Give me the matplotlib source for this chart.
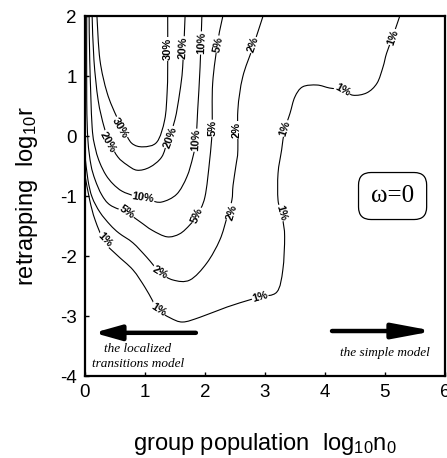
import numpy as np
import matplotlib
matplotlib.use('Agg')
import matplotlib.pyplot as plt
from matplotlib.path import Path
from matplotlib.patches import PathPatch

plt.rcParams['font.family'] = ['Liberation Sans', 'DejaVu Sans']
plt.rcParams['mathtext.fontset'] = 'custom'
plt.rcParams['mathtext.rm'] = 'Liberation Sans'
plt.rcParams['mathtext.it'] = 'Liberation Sans:italic'
plt.rcParams['axes.unicode_minus'] = False

# contour lines: (log10 n0, log10 r)
c30 = [(0.20, 2.0), (0.25, 1.27), (0.37, 0.72), (0.53, 0.32), (0.65, 0.10), (0.78, -0.12),
       (0.97, -0.18), (1.20, -0.10), (1.33, 0.27), (1.37, 0.72), (1.38, 1.15), (1.38, 2.0)]
c20 = [(0.12, 2.0), (0.15, 1.27), (0.22, 0.6), (0.32, 0.15), (0.42, -0.12), (0.55, -0.35),
       (0.70, -0.48), (0.87, -0.57), (1.08, -0.52), (1.28, -0.35), (1.38, -0.07), (1.50, 0.27),
       (1.58, 0.72), (1.63, 1.15), (1.67, 2.0)]
c10 = [(0.07, 2.0), (0.08, 1.27), (0.12, 0.15), (0.18, -0.23), (0.25, -0.45), (0.35, -0.65),
       (0.47, -0.8), (0.62, -0.92), (0.83, -1.0), (1.08, -1.07), (1.28, -1.1), (1.53, -0.97),
       (1.70, -0.68), (1.80, -0.35), (1.85, -0.07), (1.88, 0.43), (1.92, 1.15), (1.95, 2.0)]
c5 = [(0.03, 2.0), (0.03, 0.6), (0.05, -0.07), (0.10, -0.48), (0.17, -0.73), (0.28, -0.98),
      (0.42, -1.15), (0.70, -1.28), (0.92, -1.43), (1.12, -1.57), (1.37, -1.68), (1.58, -1.63),
      (1.75, -1.48), (1.87, -1.32), (2.0, -1.02), (2.08, -0.4), (2.12, 0.1), (2.13, 0.88),
      (2.22, 1.6), (2.3, 2.0)]
c2 = [(0.0, -0.32), (0.05, -0.73), (0.12, -1.02), (0.25, -1.27), (0.42, -1.48), (0.57, -1.62),
      (0.8, -1.78), (1.03, -2.02), (1.25, -2.27), (1.47, -2.4), (1.75, -2.4), (2.03, -2.12),
      (2.25, -1.73), (2.37, -1.35), (2.45, -1.07), (2.47, -0.82), (2.52, -0.48), (2.55, -0.23),
      (2.55, 0.43), (2.63, 0.98), (2.8, 1.48), (2.97, 2.0)]
c1 = [(0.0, -0.65), (0.08, -1.07), (0.17, -1.4), (0.33, -1.77), (0.53, -1.98), (0.8, -2.23),
      (1.0, -2.52), (1.12, -2.73), (1.22, -2.9), (1.42, -3.03), (1.63, -3.1), (1.92, -3.02),
      (2.37, -2.85), (2.75, -2.73), (2.92, -2.68), (3.2, -2.6), (3.3, -2.23), (3.33, -1.68),
      (3.3, -1.4), (3.28, -1.28), (3.22, -1.07), (3.22, -0.62), (3.28, -0.23), (3.33, 0.1),
      (3.42, 0.38), (3.5, 0.65), (3.63, 0.82), (3.87, 0.85), (4.08, 0.8), (4.3, 0.77),
      (4.47, 0.68), (4.7, 0.72), (4.87, 0.88), (4.97, 1.15), (5.03, 1.38), (5.13, 1.65), (5.25, 2.0)]

contours = {'30%': c30, '20%': c20, '10%': c10, '5%': c5, '2%': c2, '1%': c1}

# where the inline labels sit
label_pos = {
    '30%': [(0.58, 0.13), (1.38, 1.45)],
    '20%': [(0.38, -0.10), (1.42, -0.02), (1.63, 1.47)],
    '10%': [(0.97, -1.03), (1.85, -0.07), (1.95, 1.55)],
    '5%': [(0.70, -1.27), (1.87, -1.32), (2.13, 0.13), (2.23, 1.53)],
    '2%': [(1.25, -2.27), (2.45, -1.27), (2.53, 0.1), (2.8, 1.52)],
    '1%': [(0.33, -1.73), (1.22, -2.9), (2.92, -2.68), (3.28, -1.28), (3.33, 0.13),
           (4.3, 0.77), (5.13, 1.65)],
}

xticks = [0, 1, 2, 3, 4, 5, 6]
yticks = [-4, -3, -2, -1, 0, 1, 2]


def smooth_path(pts):
    # Catmull-Rom through the read points, drawn as cubic bezier pieces
    p = np.vstack([pts[0], pts, pts[-1]])
    verts = [p[1]]
    codes = [Path.MOVETO]
    for k in range(1, len(p) - 2):
        p0, p1, p2, p3 = p[k - 1], p[k], p[k + 1], p[k + 2]
        verts += [p1 + (p2 - p0) / 6, p2 - (p3 - p1) / 6, p2]
        codes += [Path.CURVE4] * 3
    return Path(verts, codes)


fig = plt.figure(figsize=(4.47, 4.58), dpi=100)
ax = fig.add_axes([0.190, 0.179, 0.805, 0.786])
ax.set_xlim(0, 6)
ax.set_ylim(-4, 2)

for name, pts in contours.items():
    pts = np.array(pts)
    ax.add_patch(PathPatch(smooth_path(pts), facecolor='none', edgecolor='black', lw=0.8))

# labels rotated along the local direction of the line
for name, spots in label_pos.items():
    pts = np.array(contours[name])
    disp = ax.transData.transform(pts)
    for x, y in spots:
        p = ax.transData.transform((x, y))
        d = np.hypot(*(disp - p).T)
        i = int(np.argmin(d))
        j = i + 1 if i + 1 < len(disp) else i - 1
        a, b = disp[min(i, j)], disp[max(i, j)]
        ang = np.degrees(np.arctan2(b[1] - a[1], b[0] - a[0]))
        if ang > 90:
            ang -= 180
        if ang <= -90:
            ang += 180
        ax.text(x, y, name, fontsize=8, fontweight='bold', rotation=ang,
                rotation_mode='anchor', ha='center', va='center',
                bbox=dict(facecolor='white', edgecolor='none', pad=0.4))

ax.annotate('', xy=(0.15, -3.28), xytext=(1.85, -3.28),
            arrowprops=dict(arrowstyle='-|>,head_length=1.6,head_width=0.45',
                            lw=3.2, color='black', shrinkA=0, shrinkB=0))
ax.annotate('', xy=(5.82, -3.25), xytext=(4.12, -3.25),
            arrowprops=dict(arrowstyle='-|>,head_length=2.4,head_width=0.45',
                            lw=3.2, color='black', shrinkA=0, shrinkB=0))
ax.text(0.88, -3.68, 'the localized\ntransitions model', family='Liberation Serif',
        style='italic', fontsize=9.5, ha='center', va='center', linespacing=1.3)
ax.text(5.0, -3.62, 'the simple model', family='Liberation Serif',
        style='italic', fontsize=9.5, ha='center', va='center')

ax.text(5.13, -1.0, 'ω=0', family='Liberation Serif', fontsize=18,
        ha='center', va='center',
        bbox=dict(boxstyle='round,pad=0.5,rounding_size=0.5', facecolor='white',
                  edgecolor='black', lw=0.9))

ax.set_xticks(xticks)
ax.set_yticks(yticks)
ax.tick_params(direction='in', length=3, width=1, labelsize=13.5, pad=6)
for s in ax.spines.values():
    s.set_linewidth(1.6)

ax.set_xlabel(r'group population  log$_{10}$n$_0$', fontsize=17, labelpad=21)
ax.set_ylabel(r'retrapping  log$_{10}$r', fontsize=17, labelpad=14)

fig.savefig('out.png', dpi=100)
